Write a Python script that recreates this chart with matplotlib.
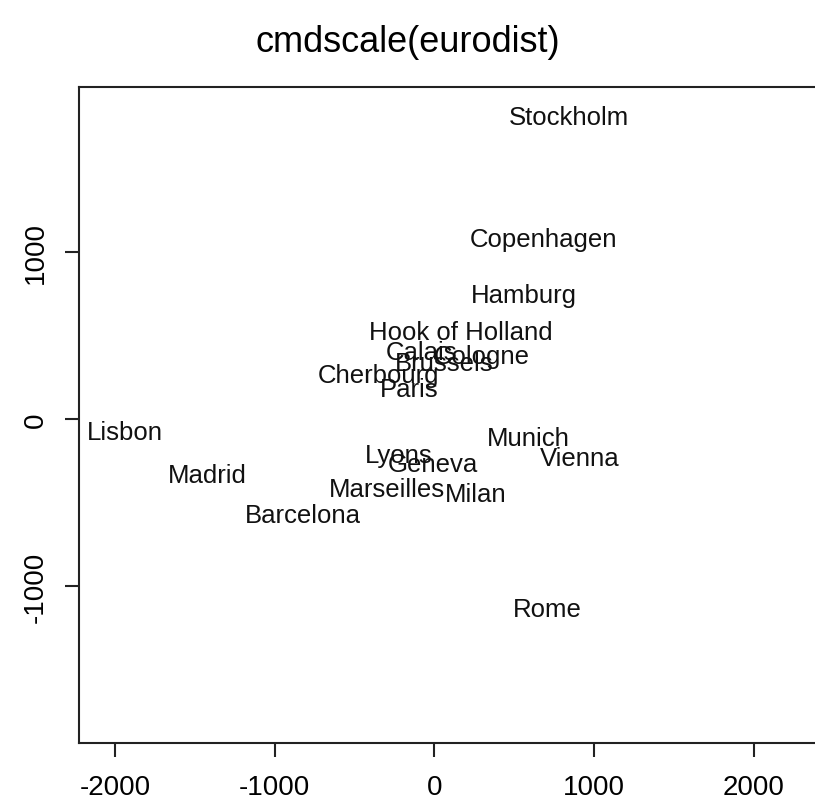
import matplotlib
matplotlib.use("Agg")
import matplotlib.pyplot as plt
from matplotlib.transforms import offset_copy

# classical MDS coordinates (cmdscale(eurodist)), second axis flipped
cities = ["Barcelona", "Brussels", "Calais", "Cherbourg", "Cologne",
          "Copenhagen", "Geneva", "Hamburg", "Hook of Holland", "Lisbon",
          "Lyons", "Madrid", "Marseilles", "Milan", "Munich", "Paris",
          "Rome", "Stockholm", "Vienna"]
x_coord = [-825.4, 59.2, -82.8, -352.5, 293.7, 681.9, -9.4, 561.1, 164.9,
           -1935.0, -226.4, -1423.4, -299.5, 260.9, 587.7, -156.8, 709.4,
           839.4, 911.2]
y_coord = [-546.8, 367.1, 429.9, 290.9, 405.3, 1108.6, -240.4, 773.4, 549.4,
           -49.1, -187.1, -305.9, -388.8, -416.7, -81.2, 211.1, -1109.4,
           1836.8, -205.9]
x_ticks = [-2000, -1000, 0, 1000, 2000]
y_ticks = [-1000, 0, 1000]

plt.rcParams['font.family'] = ['Liberation Sans', 'DejaVu Sans']
plt.rcParams['axes.unicode_minus'] = False

W, H = 815, 812
fig = plt.figure(figsize=(W / 100, H / 100), dpi=100)
left, right, top, bottom = 79, 815, 88, 744
ax = fig.add_axes([left / W, 1 - bottom / H, (right - left) / W, (bottom - top) / H])

# R centres text a bit lower than matplotlib's va='center'
label_tr = offset_copy(ax.transData, fig=fig, x=0, y=-5, units='dots')
for name, xv, yv in zip(cities, x_coord, y_coord):
    ax.text(xv, yv, name, ha='center', va='center', fontsize=18.5,
            color='#111111', transform=label_tr)

ax.set_xlim(-2225, 2382)
ax.set_ylim(-1940, 1988)
ax.set_xticks(x_ticks)
ax.set_yticks(y_ticks)
ax.set_yticklabels([str(v) for v in y_ticks], rotation=90, va='center')
ax.tick_params(direction='out', length=10, width=1.5, labelsize=20, pad=12, color='#222222')
for side in ['left', 'bottom', 'top']:
    ax.spines[side].set_linewidth(1.5)
    ax.spines[side].set_color('#222222')
ax.spines['right'].set_visible(False)

fig.text(0.5, 1 - 42 / H, "cmdscale(eurodist)", ha='center', va='center', fontsize=26)

fig.savefig("out.png", dpi=100)
